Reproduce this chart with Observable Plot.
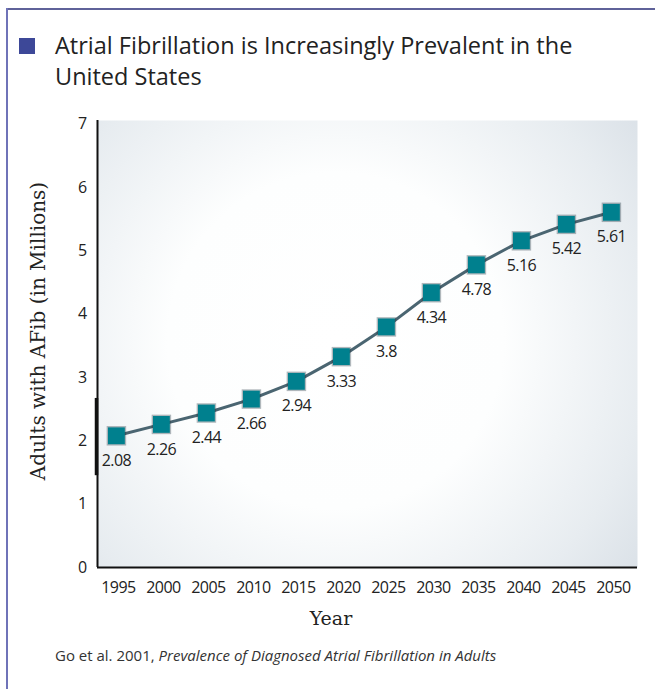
<!DOCTYPE html>
<html>
<head>
<meta charset="utf-8">
<script src="https://cdn.jsdelivr.net/npm/d3@7"></script>
<script src="https://cdn.jsdelivr.net/npm/@observablehq/plot@0.6"></script>
<style>
  html, body { margin: 0; padding: 0; background: #fff; }
  #page { position: relative; width: 655px; height: 689px; overflow: hidden; font-family: "Open Sans", sans-serif; }
  .border-top { position: absolute; left: 6px; top: 8px; width: 649px; height: 2px; background: #5f6299; }
  .border-left { position: absolute; left: 6px; top: 8px; width: 2px; height: 681px; background: #6f73b8; }
  .bullet { position: absolute; left: 19px; top: 38px; width: 16px; height: 16px; background: #3d4898; }
  .title { position: absolute; left: 55px; top: 30px; width: 595px; font-size: 23.5px; line-height: 31px; color: #222; }
  #chart { position: absolute; left: 0; top: 110px; }
  .caption { position: absolute; left: 55px; top: 645px; font-size: 15px; color: #333; }
</style>
</head>
<body>
<div id="page">
  <div class="border-top"></div>
  <div class="border-left"></div>
  <div class="bullet"></div>
  <div class="title">Atrial Fibrillation is Increasingly Prevalent in the<br>United States</div>
  <div id="chart"></div>
  <div class="caption">Go et al. 2001, <i>Prevalence of Diagnosed Atrial Fibrillation in Adults</i></div>
</div>
<script>
// Projected number of US adults with atrial fibrillation (millions)
const years = [1995, 2000, 2005, 2010, 2015, 2020, 2025, 2030, 2035, 2040, 2045, 2050];
const adults = [2.08, 2.26, 2.44, 2.66, 2.94, 3.33, 3.8, 4.34, 4.78, 5.16, 5.42, 5.61];
const valueLabels = ["2.08", "2.26", "2.44", "2.66", "2.94", "3.33", "3.8", "4.34", "4.78", "5.16", "5.42", "5.61"];
const yTicks = [0, 1, 2, 3, 4, 5, 6, 7];

const data = years.map((year, i) => ({year, value: adults[i], label: valueLabels[i]}));

const chart = Plot.plot({
  width: 655,
  height: 530,
  marginLeft: 97,
  marginRight: 18,
  marginTop: 10,
  marginBottom: 73,
  style: {fontFamily: "Open Sans, sans-serif", fontSize: "16px", color: "#222", background: "transparent", overflow: "visible", letterSpacing: "-0.6px"},
  x: {domain: [1992.9, 2052.9], label: null},
  y: {domain: [0, 7.06], label: null},
  marks: [
    Plot.frame({fill: "url(#plotGlow)", stroke: null}),
    Plot.axisY({ticks: yTicks, tickSize: 0, tickPadding: 11, tickFormat: d => String(d), fontSize: 16}),
    Plot.axisX({ticks: years, tickSize: 0, tickPadding: 14, tickFormat: d => String(d), fontSize: 16, dx: 2}),
    Plot.ruleX([1992.9], {y1: 0, y2: 7.06, stroke: "#111", strokeWidth: 2}),
    Plot.ruleX([1992.9], {y1: 1.45, y2: 2.67, stroke: "#111", strokeWidth: 3.5, dx: -1}),
    Plot.ruleY([0], {stroke: "#111", strokeWidth: 2}),
    Plot.line(data, {x: "year", y: "value", stroke: "#4a6571", strokeWidth: 3, curve: "linear"}),
    Plot.dot(data, {x: "year", y: "value", symbol: "square", r: 11, fill: "#1f3440", fillOpacity: 0.35, stroke: null, ariaLabel: "marker-shadow"}),
    Plot.dot(data, {x: "year", y: "value", symbol: "square", r: 9.5, fill: "#00808e", stroke: null}),
    Plot.text(data, {x: "year", y: "value", text: "label", dy: 25, fontSize: 16, fill: "#222"})
  ]
});

// Soft radial glow behind the plot area and a blur for the marker shadows
const svg = d3.select(chart);
const defs = svg.insert("defs", ":first-child");
const grad = defs.append("radialGradient")
  .attr("id", "plotGlow")
  .attr("gradientUnits", "userSpaceOnUse")
  .attr("cx", 335).attr("cy", 230).attr("r", 400);
grad.append("stop").attr("offset", 0).attr("stop-color", "#ffffff");
grad.append("stop").attr("offset", 0.42).attr("stop-color", "#fdfefe");
grad.append("stop").attr("offset", 0.78).attr("stop-color", "#e7ecf0");
grad.append("stop").attr("offset", 1).attr("stop-color", "#d7dee5");
const blur = defs.append("filter").attr("id", "markerBlur")
  .attr("x", "-60%").attr("y", "-60%").attr("width", "220%").attr("height", "220%");
blur.append("feGaussianBlur").attr("stdDeviation", 5);
svg.selectAll("g[aria-label='marker-shadow']").attr("filter", "url(#markerBlur)");

document.getElementById("chart").appendChild(chart);

// Axis titles in a serif face
svg.append("text")
  .attr("transform", "translate(45,221) rotate(-90)")
  .attr("text-anchor", "middle")
  .attr("font-family", "DejaVu Serif, serif")
  .attr("font-size", 20)
  .attr("letter-spacing", 0)
  .attr("fill", "#222")
  .text("Adults with AFib (in Millions)");
svg.append("text")
  .attr("x", 331).attr("y", 515)
  .attr("text-anchor", "middle")
  .attr("font-family", "DejaVu Serif, serif")
  .attr("font-size", 19)
  .attr("letter-spacing", 0)
  .attr("fill", "#222")
  .text("Year");
</script>
</body>
</html>
